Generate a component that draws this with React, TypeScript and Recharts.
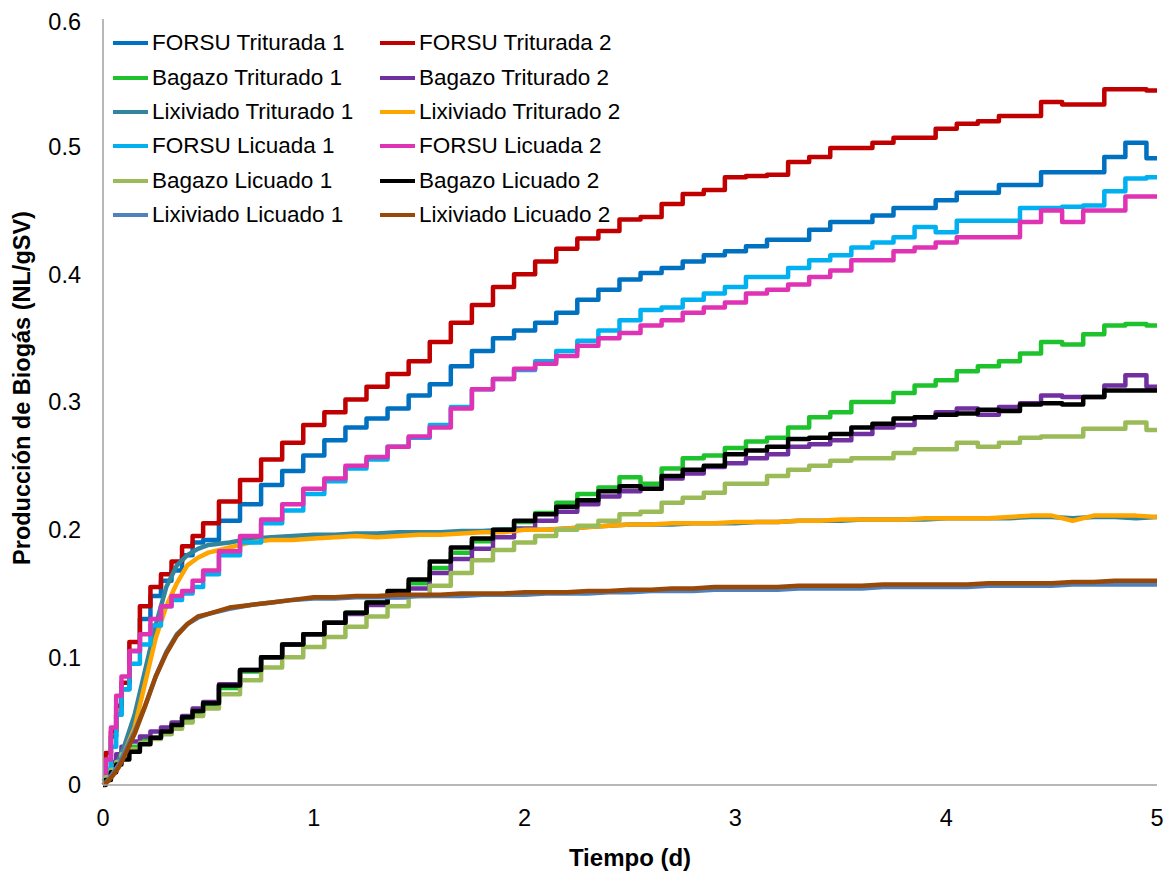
import React from "react";
import { Label, Legend, Line, LineChart, XAxis, YAxis } from "recharts";

const FONT = '"Liberation Sans", Arial, sans-serif';

// tiempo (d)
const TIME = [
  0, 0.025, 0.05, 0.075, 0.1, 0.15, 0.2, 0.25, 0.3, 0.35, 0.4, 0.45, 0.5,
  0.6, 0.7, 0.8, 0.9,
  1, 1.1, 1.2, 1.3, 1.4, 1.5, 1.6, 1.7, 1.8, 1.9,
  2, 2.1, 2.2, 2.3, 2.4, 2.5, 2.6, 2.7, 2.8, 2.9,
  3, 3.1, 3.2, 3.3, 3.4, 3.5, 3.6, 3.7, 3.8, 3.9,
  4, 4.1, 4.2, 4.3, 4.4, 4.5, 4.6, 4.7, 4.8, 4.9,
  5,
];

// NL/gSV
const FORSU_TRIT_1 = [
  0.008, 0.02, 0.038, 0.055, 0.075, 0.105, 0.13, 0.148, 0.16, 0.168, 0.18, 0.19, 0.192,
  0.207, 0.22, 0.235, 0.246,
  0.258, 0.27, 0.28, 0.287, 0.295, 0.305, 0.314, 0.328, 0.34, 0.35,
  0.356, 0.362, 0.37, 0.38, 0.388, 0.396, 0.401, 0.405, 0.41, 0.415,
  0.418, 0.422, 0.427, 0.427, 0.435, 0.441, 0.441, 0.446, 0.452, 0.452,
  0.458, 0.464, 0.464, 0.47, 0.47, 0.48, 0.48, 0.48, 0.492, 0.503,
  0.491,
];
const FORSU_TRIT_2 = [
  0.012, 0.025, 0.042, 0.062, 0.08, 0.112, 0.14, 0.155, 0.165, 0.175, 0.187, 0.195, 0.205,
  0.222, 0.239, 0.255, 0.268,
  0.282, 0.292, 0.302, 0.312, 0.322, 0.332, 0.347, 0.362, 0.376, 0.39,
  0.4, 0.41, 0.42, 0.428, 0.434, 0.443, 0.445, 0.455, 0.463, 0.466,
  0.476, 0.477, 0.478, 0.488, 0.492, 0.499, 0.499, 0.503, 0.507, 0.507,
  0.514, 0.518, 0.52, 0.524, 0.524, 0.535, 0.533, 0.533, 0.545, 0.545,
  0.544,
];
const BAGAZO_TRIT_1 = [
  0.002, 0.008, 0.014, 0.02, 0.026, 0.03, 0.035, 0.037, 0.04, 0.045, 0.05, 0.056, 0.063,
  0.076, 0.089, 0.1, 0.11,
  0.118, 0.127, 0.135, 0.143, 0.151, 0.158, 0.17, 0.182, 0.191, 0.2,
  0.206, 0.213, 0.221, 0.228, 0.233, 0.241, 0.236, 0.248, 0.256, 0.258,
  0.264, 0.269, 0.272, 0.28, 0.288, 0.292, 0.3, 0.3, 0.307, 0.313,
  0.317, 0.324, 0.328, 0.332, 0.338, 0.347, 0.345, 0.353, 0.36, 0.361,
  0.36,
];
const BAGAZO_TRIT_2 = [
  0.003, 0.01, 0.018, 0.024, 0.03, 0.034, 0.038, 0.042, 0.045, 0.049, 0.054, 0.06, 0.065,
  0.079, 0.09, 0.1, 0.11,
  0.118, 0.127, 0.134, 0.141, 0.147, 0.154, 0.166, 0.177, 0.185, 0.194,
  0.201, 0.207, 0.214, 0.22, 0.226, 0.23, 0.232, 0.24, 0.244, 0.249,
  0.252, 0.256, 0.259, 0.265, 0.267, 0.27, 0.275, 0.28, 0.282, 0.288,
  0.292, 0.295, 0.29, 0.296, 0.299, 0.305, 0.304, 0.304, 0.313, 0.321,
  0.312,
];
const LIX_TRIT_1 = [
  0.003, 0.006, 0.012, 0.02, 0.03, 0.055, 0.09, 0.125, 0.155, 0.172, 0.18, 0.185, 0.188,
  0.19, 0.193, 0.194, 0.195,
  0.196, 0.196, 0.197, 0.197, 0.198, 0.198, 0.198, 0.199, 0.199, 0.2,
  0.2, 0.2, 0.201, 0.202, 0.203, 0.204, 0.204, 0.204, 0.205, 0.205,
  0.205, 0.206, 0.206, 0.207, 0.207, 0.207, 0.208, 0.208, 0.208, 0.208,
  0.209, 0.209, 0.209, 0.209, 0.21, 0.21, 0.209, 0.21, 0.21, 0.209,
  0.21,
];
const LIX_TRIT_2 = [
  0.002, 0.005, 0.01, 0.016, 0.025, 0.045, 0.08, 0.115, 0.14, 0.158, 0.172, 0.178, 0.182,
  0.186, 0.19, 0.192, 0.192,
  0.193, 0.194, 0.195, 0.194, 0.195, 0.196, 0.196, 0.197, 0.198, 0.198,
  0.2, 0.2, 0.201, 0.202, 0.203, 0.204, 0.204, 0.205, 0.205, 0.205,
  0.206, 0.206, 0.206, 0.207, 0.207, 0.208, 0.208, 0.208, 0.208, 0.209,
  0.209, 0.209, 0.209, 0.21, 0.211, 0.211, 0.207, 0.211, 0.211, 0.211,
  0.21,
];
const FORSU_LIC_1 = [
  0.005, 0.012, 0.03, 0.055, 0.075, 0.095, 0.11, 0.125, 0.14, 0.145, 0.15, 0.155, 0.165,
  0.18, 0.19, 0.205, 0.215,
  0.228, 0.238, 0.248, 0.255, 0.265, 0.272, 0.282, 0.296, 0.31, 0.318,
  0.325, 0.332, 0.34, 0.348, 0.356, 0.364, 0.372, 0.374, 0.38, 0.385,
  0.39, 0.398, 0.398, 0.405, 0.411, 0.415, 0.421, 0.425, 0.429, 0.437,
  0.433, 0.442, 0.442, 0.442, 0.452, 0.452, 0.453, 0.454, 0.465, 0.475,
  0.476,
];
const FORSU_LIC_2 = [
  0.008, 0.02, 0.045, 0.07, 0.085, 0.105, 0.118, 0.13, 0.14, 0.148, 0.152, 0.16, 0.168,
  0.183, 0.195, 0.208, 0.22,
  0.232, 0.24, 0.25, 0.257, 0.265, 0.273, 0.28, 0.295, 0.31, 0.318,
  0.326, 0.33, 0.336, 0.344, 0.35, 0.354, 0.36, 0.364, 0.37, 0.374,
  0.378, 0.385, 0.388, 0.392, 0.398, 0.403, 0.411, 0.411, 0.418, 0.421,
  0.425, 0.429, 0.429, 0.429, 0.441, 0.45, 0.441, 0.45, 0.45, 0.461,
  0.461,
];
const BAGAZO_LIC_1 = [
  0.002, 0.006, 0.012, 0.018, 0.024, 0.028, 0.033, 0.036, 0.04, 0.044, 0.049, 0.054, 0.06,
  0.071, 0.082, 0.092, 0.1,
  0.108, 0.116, 0.124, 0.132, 0.14, 0.148, 0.156, 0.166, 0.176, 0.184,
  0.19, 0.195, 0.2, 0.203, 0.207, 0.212, 0.214, 0.221, 0.225, 0.229,
  0.236, 0.236, 0.242, 0.247, 0.25, 0.254, 0.256, 0.256, 0.26, 0.263,
  0.263, 0.268, 0.265, 0.268, 0.272, 0.273, 0.273, 0.279, 0.279, 0.284,
  0.278,
];
const BAGAZO_LIC_2 = [
  0, 0.004, 0.01, 0.016, 0.02, 0.026, 0.032, 0.037, 0.042, 0.047, 0.053, 0.058, 0.064,
  0.078, 0.09, 0.1, 0.11,
  0.118, 0.127, 0.135, 0.143, 0.152, 0.161, 0.175, 0.186, 0.193, 0.2,
  0.207, 0.212, 0.218, 0.223, 0.23, 0.234, 0.232, 0.242, 0.247, 0.25,
  0.259, 0.262, 0.265, 0.271, 0.272, 0.275, 0.28, 0.283, 0.287, 0.288,
  0.29, 0.291, 0.294, 0.293, 0.298, 0.299, 0.298, 0.304, 0.309, 0.309,
  0.309,
];
const LIX_LIC_1 = [
  0, 0.004, 0.01, 0.016, 0.025, 0.042, 0.062, 0.085, 0.104, 0.118, 0.126, 0.131, 0.134,
  0.138, 0.141, 0.143, 0.145,
  0.146, 0.146, 0.147, 0.147, 0.147, 0.148, 0.148, 0.148, 0.149, 0.149,
  0.149, 0.15, 0.15, 0.15, 0.151, 0.151, 0.152, 0.152, 0.152, 0.153,
  0.153, 0.153, 0.153, 0.154, 0.154, 0.154, 0.154, 0.155, 0.155, 0.155,
  0.155, 0.155, 0.156, 0.156, 0.156, 0.156, 0.157, 0.157, 0.157, 0.157,
  0.157,
];
const LIX_LIC_2 = [
  0, 0.003, 0.008, 0.014, 0.022, 0.04, 0.062, 0.085, 0.103, 0.117, 0.126, 0.132, 0.134,
  0.139, 0.141, 0.143, 0.145,
  0.147, 0.147, 0.148, 0.148, 0.149, 0.149, 0.149, 0.15, 0.15, 0.15,
  0.151, 0.151, 0.151, 0.152, 0.152, 0.153, 0.153, 0.154, 0.154, 0.155,
  0.155, 0.155, 0.155, 0.156, 0.156, 0.156, 0.156, 0.157, 0.157, 0.157,
  0.157, 0.157, 0.158, 0.158, 0.158, 0.158, 0.159, 0.159, 0.16, 0.16,
  0.16,
];

const X_TICKS = [0, 1, 2, 3, 4, 5];
const Y_TICKS = [0, 0.1, 0.2, 0.3, 0.4, 0.5, 0.6];

// legend order = draw order
const SERIES = [
  { key: "ft1", name: "FORSU Triturada 1", color: "#0070C0", values: FORSU_TRIT_1, type: "step" },
  { key: "ft2", name: "FORSU Triturada 2", color: "#C00000", values: FORSU_TRIT_2, type: "step" },
  { key: "bt1", name: "Bagazo Triturado 1", color: "#1EC22C", values: BAGAZO_TRIT_1, type: "step" },
  { key: "bt2", name: "Bagazo Triturado 2", color: "#7030A0", values: BAGAZO_TRIT_2, type: "step" },
  { key: "lt1", name: "Lixiviado Triturado 1", color: "#31859C", values: LIX_TRIT_1, type: "linear" },
  { key: "lt2", name: "Lixiviado Triturado 2", color: "#FFA500", values: LIX_TRIT_2, type: "linear" },
  { key: "fl1", name: "FORSU Licuada 1", color: "#00B0F0", values: FORSU_LIC_1, type: "step" },
  { key: "fl2", name: "FORSU Licuada 2", color: "#E033B3", values: FORSU_LIC_2, type: "step" },
  { key: "bl1", name: "Bagazo Licuado 1", color: "#9BBB59", values: BAGAZO_LIC_1, type: "step" },
  { key: "bl2", name: "Bagazo Licuado 2", color: "#000000", values: BAGAZO_LIC_2, type: "step" },
  { key: "ll1", name: "Lixiviado Licuado 1", color: "#4F81BD", values: LIX_LIC_1, type: "linear" },
  { key: "ll2", name: "Lixiviado Licuado 2", color: "#984807", values: LIX_LIC_2, type: "linear" },
];

const data = TIME.map((t, i) => {
  const row: Record<string, number> = { t };
  SERIES.forEach((s) => {
    row[s.key] = s.values[i];
  });
  return row;
});

// recharts sorts the legend payload, so keep the series order here
const renderLegend = () => {
  return (
    <div
      style={{
        display: "grid",
        gridTemplateColumns: "267px 267px",
        fontFamily: FONT,
        fontSize: 22.5,
        color: "#000",
      }}
    >
      {SERIES.map((s, index) => (
        <div key={`item-${index}`} style={{ display: "flex", alignItems: "center", height: 34.4 }}>
          <span
            style={{
              display: "inline-block",
              width: 35,
              height: 4,
              backgroundColor: s.color,
              marginRight: 4,
            }}
          ></span>
          <span style={{ whiteSpace: "nowrap" }}>{s.name}</span>
        </div>
      ))}
    </div>
  );
};

const App = () => {
  return (
    <>
      {/* chart runs to the bottom edge; no scrollbars */}
      <style>{"html { overflow: hidden; }"}</style>
      <LineChart
        width={1156}
        height={869}
        data={data}
        margin={{ top: 11, right: 7, left: 0, bottom: 0 }}
        style={{ fontFamily: FONT }}
      >
        <XAxis
          dataKey="t"
          type="number"
          domain={[0, 5]}
          ticks={X_TICKS}
          height={92}
          stroke="#A0A0A0"
          strokeWidth={1.5}
          tickLine={false}
          tickSize={0}
          tickMargin={24}
          tick={{ fill: "#000", fontSize: 23.5 }}
        >
          <Label
            content={() => (
              <text x={622} y={858} textAnchor="middle" fontSize={24} fontWeight="bold" fill="#000">
                Tiempo (d)
              </text>
            )}
          />
        </XAxis>
        <YAxis
          type="number"
          domain={[0, 0.6]}
          ticks={Y_TICKS}
          width={95}
          stroke="#A0A0A0"
          strokeWidth={1.5}
          tickLine={false}
          tickSize={0}
          tickMargin={22}
          tick={{ fill: "#000", fontSize: 23.5 }}
        >
          <Label
            content={() => (
              <text
                x={22}
                y={380}
                transform="rotate(-90, 22, 380)"
                textAnchor="middle"
                fontSize={23.5}
                fontWeight="bold"
                fill="#000"
              >
                Producción de Biogás (NL/gSV)
              </text>
            )}
          />
        </YAxis>
        <Legend
          layout="vertical"
          align="center"
          verticalAlign="middle"
          width={540}
          content={renderLegend}
          wrapperStyle={{ top: 18, left: 105 }}
        />
        {SERIES.map((s) => (
          <Line
            key={s.key}
            dataKey={s.key}
            name={s.name}
            type={s.type}
            stroke={s.color}
            strokeWidth={4.5}
            strokeLinejoin="round"
            dot={false}
            activeDot={false}
            isAnimationActive={false}
          />
        ))}
      </LineChart>
    </>
  );
};

export default App;
